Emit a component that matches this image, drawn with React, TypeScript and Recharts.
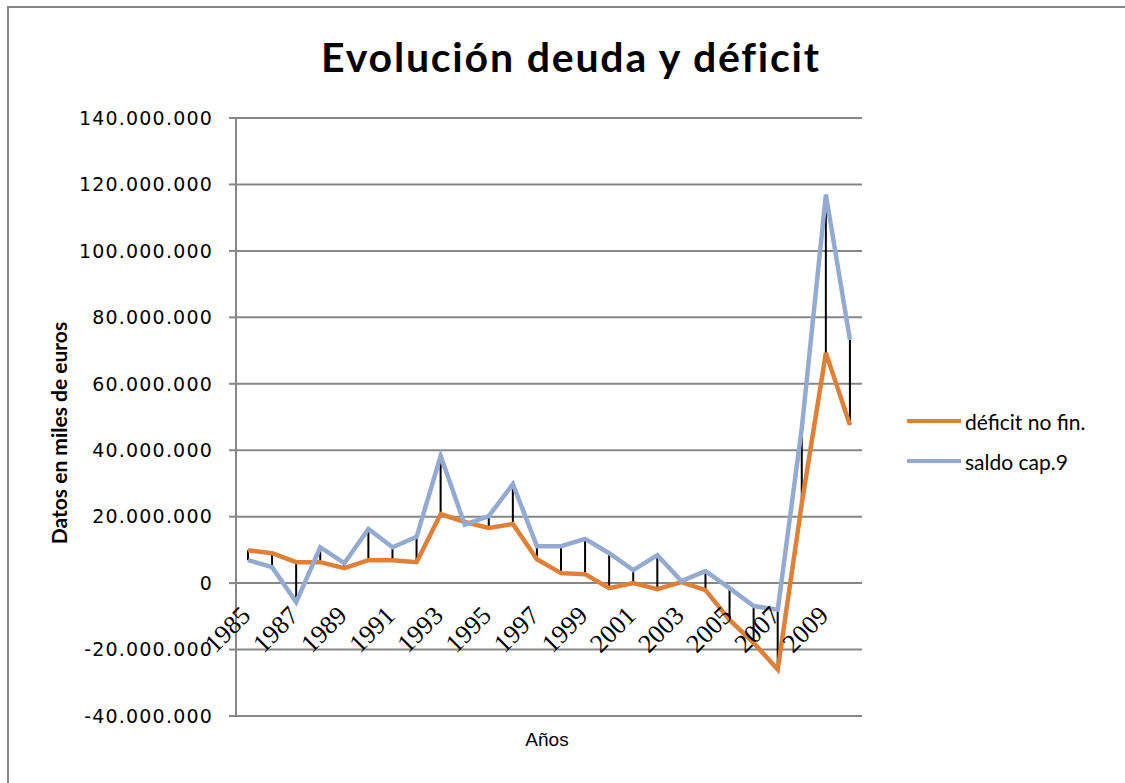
import { ComposedChart, Line, Bar, XAxis, YAxis, CartesianGrid } from 'recharts';

const years = [
  '1985', '1986', '1987', '1988', '1989', '1990', '1991', '1992', '1993',
  '1994', '1995', '1996', '1997', '1998', '1999', '2000', '2001', '2002',
  '2003', '2004', '2005', '2006', '2007', '2008', '2009', '2010',
];

// miles de euros
const deficitNoFin = [
  9900000, 9000000, 6300000, 6300000, 4500000, 6900000, 6900000, 6300000, 20800000,
  18400000, 16600000, 17800000, 7200000, 3000000, 2700000, -1500000, 0, -1800000,
  300000, -2100000, -11100000, -18000000, -26000000, 24000000, 69300000, 47600000,
];

const saldoCap9 = [
  6900000, 4800000, -5700000, 10800000, 6000000, 16300000, 10800000, 13900000, 38300000,
  17600000, 20200000, 29800000, 11100000, 11100000, 13300000, 9000000, 3900000, 8400000,
  600000, 3600000, -1500000, -6900000, -8000000, 46700000, 116900000, 73200000,
];

const yTicks = [-40000000, -20000000, 0, 20000000, 40000000, 60000000, 80000000, 100000000, 120000000, 140000000];

const series = [
  { key: 'deficit', name: 'déficit no fin.', color: '#E07F36' },
  { key: 'saldo', name: 'saldo cap.9', color: '#93AAD2' },
];

const data = years.map((year, i) => ({
  year,
  deficit: deficitNoFin[i],
  saldo: saldoCap9[i],
  range: [Math.min(deficitNoFin[i], saldoCap9[i]), Math.max(deficitNoFin[i], saldoCap9[i])],
}));

const fmt = (v: number) => {
  const s = Math.abs(v).toString().replace(/\B(?=(\d{3})+(?!\d))/g, '.');
  return v < 0 ? '-' + s : s;
};

const GRID = '#878787';
const PLOT_TOP = 118;
const PLOT_BOTTOM = 716;
// the category labels sit under the zero line, not at the bottom
const ZERO_SHIFT = -((PLOT_BOTTOM - PLOT_TOP) * 40) / 180;

function YearTick({ x, y, payload }: any) {
  const ax = x + 4;
  const ay = y + ZERO_SHIFT + 34;
  return (
    <text
      x={ax}
      y={ay}
      transform={`rotate(-45, ${ax}, ${ay})`}
      textAnchor="end"
      fontFamily="'Liberation Serif', serif"
      fontSize={26}
      fill="#000"
    >
      {payload.value}
    </text>
  );
}

function LegendBox() {
  return (
    <div
      style={{
        position: 'absolute',
        left: 907,
        top: 401,
        fontFamily: 'Lato, sans-serif',
        fontSize: 21,
        color: '#000',
      }}
    >
      {series.map((s) => (
        <div key={s.key} style={{ display: 'flex', alignItems: 'center', height: 40 }}>
          <span style={{ width: 54, height: 4, background: s.color, marginRight: 4 }} />
          <span>{s.name}</span>
        </div>
      ))}
    </div>
  );
}

export default function App() {
  return (
    <div style={{ position: 'relative', width: 1125, height: 783, overflow: 'hidden', background: '#fff' }}>
      <style>{`body{margin:0}`}</style>
      <div
        style={{
          position: 'absolute',
          left: 7,
          top: 6,
          width: 1125,
          height: 783,
          borderLeft: `2px solid ${GRID}`,
          borderTop: `2px solid ${GRID}`,
        }}
      />
      <div
        style={{
          position: 'absolute',
          left: 0,
          width: 1142,
          top: 32,
          textAlign: 'center',
          fontFamily: 'Lato, sans-serif',
          fontWeight: 700,
          fontSize: 41,
          letterSpacing: 1.8,
          color: '#000',
        }}
      >
        Evolución deuda y déficit
      </div>
      <div
        style={{
          position: 'absolute',
          left: 58,
          top: 433,
          transform: 'translate(-50%, -50%) rotate(-90deg)',
          whiteSpace: 'nowrap',
          fontFamily: 'Lato, sans-serif',
          fontWeight: 700,
          fontSize: 21,
          color: '#000',
        }}
      >
        Datos en miles de euros
      </div>
      <div
        style={{
          position: 'absolute',
          left: 547,
          top: 740,
          transform: 'translate(-50%, -50%)',
          fontFamily: "'Liberation Sans', sans-serif",
          fontSize: 19,
          color: '#000',
        }}
      >
        Años
      </div>
      <LegendBox />
      <div style={{ position: 'absolute', left: 0, top: 0 }}>
        <ComposedChart
          width={1125}
          height={783}
          data={data}
          margin={{ top: PLOT_TOP, right: 263, bottom: 783 - PLOT_BOTTOM - 1, left: 0 }}
        >
          <CartesianGrid vertical={false} stroke={GRID} strokeWidth={2} />
          <XAxis
            dataKey="year"
            height={1}
            axisLine={false}
            tickLine={false}
            tickSize={0}
            tickMargin={0}
            interval={1}
            tick={<YearTick />}
          />
          <YAxis
            width={236}
            domain={[-40000000, 140000000]}
            ticks={yTicks}
            tickFormatter={fmt}
            axisLine={{ stroke: GRID, strokeWidth: 2 }}
            tickLine={{ stroke: GRID, strokeWidth: 2 }}
            tickSize={7}
            tickMargin={16}
            tick={{ fill: '#000', fontSize: 19, fontFamily: "'DejaVu Sans', sans-serif", letterSpacing: 1.2 }}
          />
          {series.map((s) => (
            <Line
              key={s.key}
              dataKey={s.key}
              name={s.name}
              stroke={s.color}
              strokeWidth={4.5}
              dot={false}
              isAnimationActive={false}
            />
          ))}
          <Bar dataKey="range" fill="#000" barSize={2} legendType="none" isAnimationActive={false} />
        </ComposedChart>
      </div>
    </div>
  );
}
